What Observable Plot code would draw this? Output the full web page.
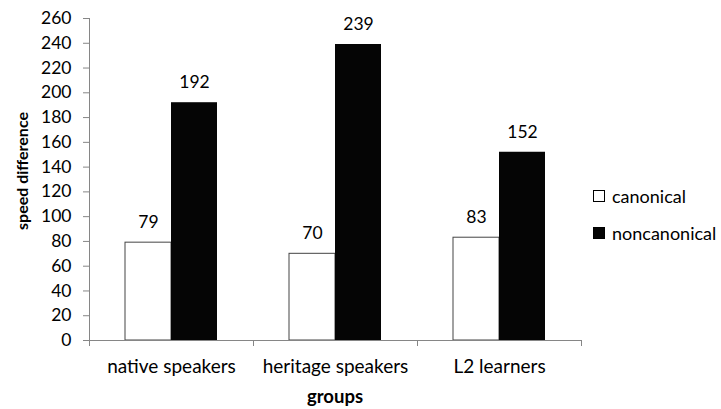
<!DOCTYPE html>
<html>
<head>
<meta charset="utf-8">
<script src="https://cdn.jsdelivr.net/npm/d3@7"></script>
<script src="https://cdn.jsdelivr.net/npm/@observablehq/plot@0.6"></script>
<style>
  body { margin: 0; background: #fff; }
  #wrap { position: relative; width: 721px; height: 409px; font-family: Lato, "Open Sans", sans-serif; }
  #legend { position: absolute; left: 593px; top: 187px; font-size: 18px; color: #000; }
  #legend .item { display: flex; align-items: center; height: 18px; margin-bottom: 19px; }
  #legend .sw { width: 10px; height: 10px; border: 1px solid #000; margin-right: 7px; box-sizing: content-box; }
</style>
</head>
<body>
<div id="wrap"></div>
<script>
const groups = ["native speakers", "heritage speakers", "L2 learners"];
const series = ["canonical", "noncanonical"];
const canonical = [79, 70, 83];
const noncanonical = [192, 239, 152];
const yTicks = [0, 20, 40, 60, 80, 100, 120, 140, 160, 180, 200, 220, 240, 260];
const xTitle = "groups";
const yTitle = "speed difference";

const data = groups.flatMap((g, i) => [
  {group: g, series: "canonical", value: canonical[i]},
  {group: g, series: "noncanonical", value: noncanonical[i]}
]);

const axisGray = "#868686";
const W = 721, H = 409;

const chart = Plot.plot({
  width: W, height: H,
  marginLeft: 89, marginRight: 140, marginTop: 18, marginBottom: 69,
  style: {fontFamily: "Lato, 'Open Sans', sans-serif", fontSize: "16px", color: "#000", background: "#fff"},
  fx: {domain: groups, padding: 0, label: null, axis: null},
  x: {domain: series, paddingInner: 0, paddingOuter: 0.7826, axis: null},
  y: {domain: [0, 260], axis: null},
  marks: [
    Plot.barY(data.filter(d => d.series === "canonical"), {fx: "group", x: "series", y: "value", fill: "#fff", stroke: "#444", strokeWidth: 1, insetLeft: 0, insetRight: 0}),
    Plot.barY(data.filter(d => d.series === "noncanonical"), {fx: "group", x: "series", y: "value", fill: "#050505", insetLeft: 0, insetRight: 0}),
    Plot.ruleY([0], {stroke: axisGray}),
    Plot.text(data, {fx: "group", x: "series", y: "value", text: d => String(d.value), dy: -20, fontSize: 17.5, fill: "#000"}),
    Plot.axisY({ticks: yTicks, tickSize: 6, tickPadding: 12, stroke: axisGray, fill: "#000", fontSize: 17.5, label: null}),
    Plot.axisFx({anchor: "bottom", tickSize: 0, tickPadding: 19, fontSize: 19, label: null, fill: "#000"})
  ]
});

// axis line and category boundary ticks, positioned by the plot's own scales
const fx = chart.scale("fx"), y = chart.scale("y");
const svg = d3.select(chart);
const y0 = y.apply(0), yTop = y.apply(260);
const left = fx.apply(groups[0]);
const edges = groups.map(g => fx.apply(g)).concat([fx.apply(groups[groups.length - 1]) + fx.bandwidth]);
const g = svg.append("g").attr("stroke", axisGray).attr("stroke-width", 1);
g.append("line").attr("x1", left + 0.5).attr("x2", left + 0.5).attr("y1", yTop).attr("y2", y0 + 6);
edges.forEach(e => g.append("line").attr("x1", e + 0.5).attr("x2", e + 0.5).attr("y1", y0).attr("y2", y0 + 6));

// axis titles
const tcx = (left + edges[edges.length - 1]) / 2;
svg.append("text").attr("x", tcx).attr("y", 398).attr("text-anchor", "middle").attr("dominant-baseline", "middle")
  .attr("font-weight", "bold").attr("font-size", 18.5).text(xTitle);
svg.append("text").attr("transform", `translate(24,171) rotate(-90)`).attr("text-anchor", "middle")
  .attr("dominant-baseline", "middle").attr("font-weight", "bold").attr("font-size", 16).text(yTitle);

const wrap = document.getElementById("wrap");
wrap.appendChild(chart);

const legend = document.createElement("div");
legend.id = "legend";
series.forEach((s, i) => {
  const it = document.createElement("div");
  it.className = "item";
  const sw = document.createElement("span");
  sw.className = "sw";
  sw.style.background = i === 0 ? "#fff" : "#050505";
  it.appendChild(sw);
  const t = document.createElement("span");
  t.textContent = s;
  it.appendChild(t);
  legend.appendChild(it);
});
wrap.appendChild(legend);
</script>
</body>
</html>
